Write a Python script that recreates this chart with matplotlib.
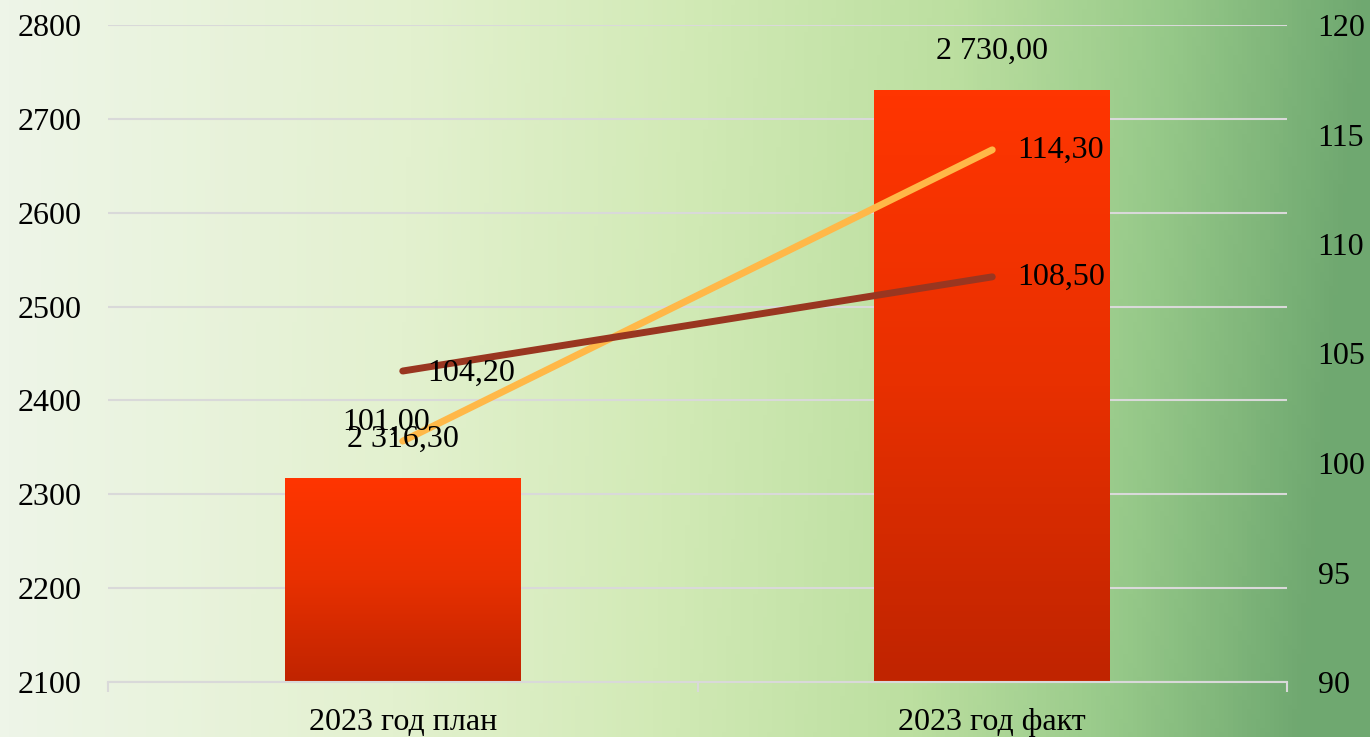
import numpy as np
import matplotlib.pyplot as plt
from matplotlib.colors import LinearSegmentedColormap

plt.rcParams['font.family'] = ['Liberation Serif', 'DejaVu Serif']

# данные
categories = ["2023 год план", "2023 год факт"]
bar_values = [2316.30, 2730.00]
line1_values = [101.00, 114.30]   # жёлтая линия
line2_values = [104.20, 108.50]   # тёмно-красная линия
bar_labels = ["2 316,30", "2 730,00"]
line1_labels = ["101,00", "114,30"]
line2_labels = ["104,20", "108,50"]
left_ticks = [2100, 2200, 2300, 2400, 2500, 2600, 2700, 2800]
right_ticks = [90, 95, 100, 105, 110, 115, 120]

fig = plt.figure(figsize=(13.7, 7.37), dpi=100)

# фон - градиент от светлого к зелёному
bg = fig.add_axes([0, 0, 1, 1])
bg.axis("off")
xx = np.linspace(0, 1, 300)
yy = np.linspace(0, 1, 160)
X, Y = np.meshgrid(xx, yy)
t = np.clip(X + 0.05 * (1 - Y) * X, 0, 1)
bg_cmap = LinearSegmentedColormap.from_list(
    "bg", [(0, "#eef5e8"), (0.3, "#e3f1cf"), (0.5, "#d2eab6"), (0.7, "#bcdfa0"),
           (0.85, "#98ca8a"), (1, "#6fa870")])
bg.imshow(t, cmap=bg_cmap, aspect="auto", extent=[0, 1, 0, 1], origin="lower")
bg.set_xlim(0, 1)
bg.set_ylim(0, 1)

ax = fig.add_axes([108 / 1370, 1 - 682 / 737, (1287 - 108) / 1370, (682 - 25) / 737])
ax.patch.set_alpha(0)
x = np.arange(len(categories))

# столбцы с градиентом
bar_cmap = LinearSegmentedColormap.from_list("bar", ["#c02400", "#e83000", "#ff3500"])
grad = np.linspace(0, 1, 100).reshape(-1, 1)
bars = ax.bar(x, bar_values, width=0.4, color="none", zorder=2)
for b in bars:
    ax.imshow(grad, cmap=bar_cmap, aspect="auto", origin="lower",
              extent=[b.get_x(), b.get_x() + b.get_width(), 2100, b.get_height()],
              zorder=2)
ax.set_xlim(-0.5, 1.5)
ax.set_ylim(2100, 2800)

ax.set_yticks(left_ticks)
ax.grid(axis="y", color="#d9d9d9", linewidth=1.5, zorder=0)
ax.set_axisbelow(True)
for s in ["top", "right", "left"]:
    ax.spines[s].set_visible(False)
ax.spines["bottom"].set_color("#d9d9d9")
ax.spines["bottom"].set_linewidth(1.5)
ax.set_xticks([-0.5, 0.5, 1.5], minor=True)
ax.set_xticks(x)
ax.set_xticklabels(categories)
ax.tick_params(axis="x", which="major", length=0, labelsize=23, pad=19)
ax.tick_params(axis="x", which="minor", length=7, color="#d9d9d9", width=1.5)
ax.tick_params(axis="y", length=0, labelsize=23, pad=19)

ax2 = ax.twinx()
ax2.set_ylim(90, 120)
ax2.set_yticks(right_ticks)
for s in ["top", "right", "left", "bottom"]:
    ax2.spines[s].set_visible(False)
ax2.tick_params(axis="y", length=0, labelsize=23, pad=22)

ax2.plot(x, line1_values, color="#ffb848", linewidth=5, solid_capstyle="round", zorder=3)
ax2.plot(x, line2_values, color="#993620", linewidth=5, solid_capstyle="round", zorder=3)

# подписи столбцов поверх линий
for i, v in enumerate(bar_values):
    ax2.text(x[i], v + 42, bar_labels[i], ha="center", va="center", fontsize=23,
             transform=ax.transData, zorder=5)

ax2.text(x[0] - 0.029, line1_values[0] + 0.87, line1_labels[0], ha="center", va="center", fontsize=23, zorder=5)
ax2.text(x[1] + 0.042, line1_values[1], line1_labels[1], ha="left", va="center", fontsize=23, zorder=5)
ax2.text(x[0] + 0.041, line2_values[0] - 0.1, line2_labels[0], ha="left", va="center", fontsize=23, zorder=5)
ax2.text(x[1] + 0.042, line2_values[1], line2_labels[1], ha="left", va="center", fontsize=23, zorder=5)

fig.savefig("out.png", dpi=100)
